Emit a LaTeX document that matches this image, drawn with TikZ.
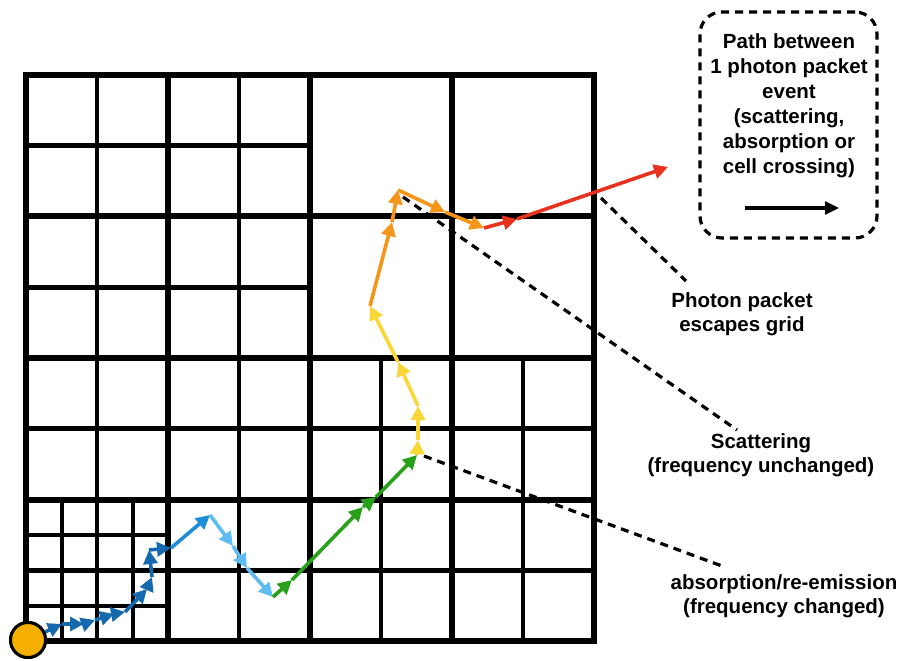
\documentclass[tikz,border=0pt]{standalone}
\usepackage{fontspec}
\setmainfont{Liberation Sans}
\usetikzlibrary{arrows.meta}
\definecolor{pkdark}{RGB}{20,105,175}
\definecolor{pkmid}{RGB}{30,140,215}
\definecolor{pklight}{RGB}{95,188,240}
\definecolor{pkgreen}{RGB}{40,160,25}
\definecolor{pkyellow}{RGB}{248,215,55}
\definecolor{pkorange}{RGB}{245,150,25}
\definecolor{pkred}{RGB}{230,50,30}
\definecolor{srcfill}{RGB}{245,175,0}
\tikzset{
  gridmajor/.style={line width=3bp},
  gridline/.style={line width=2.3bp},
  gridfine/.style={line width=2bp},
  pkline/.style={line width=1.8bp, -{Triangle[length=7bp,width=7bp]}},
  leader/.style={dash pattern=on 4bp off 3bp, line width=1.6bp},
  lbl/.style={font=\fontsize{10.25bp}{12bp}\selectfont\bfseries, align=center},
  keybox/.style={draw, dash pattern=on 4bp off 3bp, line width=1.6bp, rounded corners=11bp}
}

\begin{document}
\begin{tikzpicture}[x=0.5bp, y=-0.5bp]
  \useasboundingbox (0,0) rectangle (901,661);

  % refined grid
  \draw[gridfine] (61.5,499.5) -- (61.5,641) (132.5,499.5) -- (132.5,641)
                  (26,535) -- (168,535) (26,605.6) -- (168,605.6);
  \foreach \x in {97,239} \draw[gridline] (\x,75) -- (\x,641);
  \foreach \x in {381,523} \draw[gridline] (\x,358) -- (\x,641);
  \foreach \y in {145.75,287.25} \draw[gridline] (26,\y) -- (310,\y);
  \foreach \y in {428.75,570.25} \draw[gridline] (26,\y) -- (594,\y);
  \foreach \x in {168,452} \draw[gridmajor] (\x,75) -- (\x,641);
  \foreach \y in {216.5,499.5} \draw[gridmajor] (26,\y) -- (594,\y);
  \draw[gridmajor] (310,75) -- (310,641) (26,358) -- (594,358);
  \draw[gridmajor] (26,75) rectangle (594,641);

  % labels and leaders
  \node[lbl] (lblesc) at (742,314) {Photon packet\\escapes grid};
  \node[lbl] (lblscat) at (761,455) {Scattering\\(frequency unchanged)};
  \node[lbl] (lblabs) at (784,596) {absorption/re-emission\\(frequency changed)};
  \coordinate (escA) at (601,198);  \coordinate (escB) at (686,281);
  \coordinate (scatA) at (403,197); \coordinate (scatB) at (737,430);
  \coordinate (absA) at (424,456);  \coordinate (absB) at (722,566);
  \draw[leader] (escA) -- (escB);
  \draw[leader] (scatA) -- (scatB);
  \draw[leader] (absA) -- (absB);

  % key
  \node[keybox, minimum width=88.5bp, minimum height=113bp] (key) at (788.5,125) {};
  \node[lbl, font=\fontsize{10.25bp}{12.5bp}\selectfont\bfseries] (keytxt) at (789,106)
    {Path between\\1 photon packet\\event\\(scattering,\\absorption or\\cell crossing)};
  \coordinate (keyA) at (745,208); \coordinate (keyB) at (839,208);
  \draw[line width=1.6bp, -{Triangle[length=7bp,width=6.5bp]}] (keyA) -- (keyB);

  % photon packet path
  \node[circle, draw, line width=1.5bp, fill=srcfill, minimum size=17.5bp, inner sep=0pt] (src) at (28,640) {};
  \foreach \n/\pos in {p1/{62,624}, p2/{84,624}, p3/{95,620}, p4/{114,614}, p5/{125,612},
      p6/{147,589}, p7/{152,577}, p8/{149,550}, p9/{171,548}, p10/{210,515},
      p11/{233,546}, p12/{247,568}, p13/{273,597}, p14/{292,580}, p15/{363,507},
      p16/{376,497}, p17/{417,455}, p18/{418,440}, p19/{418,406}, p20/{398,362},
      p21/{370,306}, p22/{392,222}, p23/{398,190}, p24/{445,212}, p25/{484,228},
      p26/{517,219}, p27/{668,167}}
    \coordinate (\n) at (\pos);
  \foreach \a/\b/\c in {src/p1/pkdark, p1/p2/pkdark, p2/p3/pkdark, p3/p4/pkdark, p4/p5/pkdark,
      p5/p6/pkdark, p6/p7/pkdark, p7/p8/pkdark, p8/p9/pkdark, p9/p10/pkmid,
      p10/p11/pklight, p11/p12/pklight, p12/p13/pklight,
      p13/p14/pkgreen, p14/p15/pkgreen, p15/p16/pkgreen, p16/p17/pkgreen,
      p17/p18/pkyellow, p18/p19/pkyellow, p19/p20/pkyellow, p20/p21/pkyellow,
      p21/p22/pkorange, p22/p23/pkorange, p23/p24/pkorange, p24/p25/pkorange,
      p25/p26/pkred, p26/p27/pkred}
    \draw[pkline, \c] (\a) -- (\b);
  \node[circle, draw, line width=1.5bp, fill=srcfill, minimum size=17.5bp, inner sep=0pt] at (src) {};
\end{tikzpicture}
\end{document}
